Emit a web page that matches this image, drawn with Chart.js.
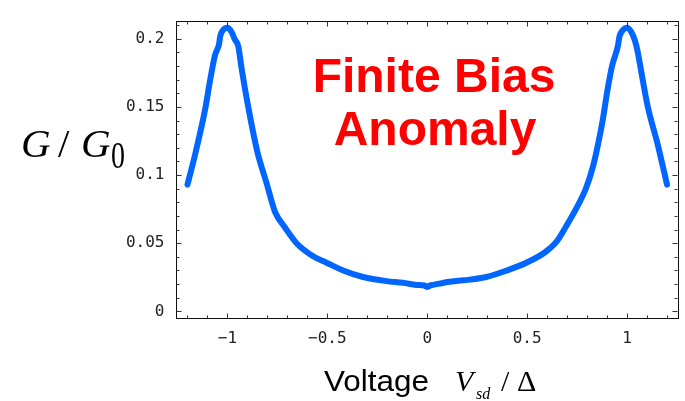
<!DOCTYPE html>
<html>
<head>
<meta charset="utf-8">
<script src="https://cdn.jsdelivr.net/npm/chart.js@4.4.1/dist/chart.umd.min.js"></script>
<style>
  html, body { margin: 0; padding: 0; background: #fff; }
  #wrap { width: 685px; height: 401px; }
</style>
</head>
<body>
<div id="wrap"><canvas id="c" width="685" height="401"></canvas></div>
<script>
// Differential conductance versus normalised source-drain bias
const voltage = [
  -1.2, -1.162, -1.112, -1.085, -1.062, -1.042, -1.036, -1.02, -1.0, -0.98,
  -0.962, -0.946, -0.929, -0.896, -0.851, -0.804, -0.762, -0.712, -0.654, -0.571,
  -0.504, -0.421, -0.321, -0.204, -0.121, -0.054, -0.015, 0, 0.015, 0.029,
  0.112, 0.212, 0.296, 0.396, 0.496, 0.588, 0.646, 0.696, 0.746, 0.795,
  0.829, 0.854, 0.879, 0.904, 0.926, 0.954, 0.962, 0.98, 0.999, 1.029,
  1.049, 1.071, 1.104, 1.154, 1.2
];
const conductance = [
  0.093, 0.115, 0.148, 0.171, 0.188, 0.196, 0.202, 0.2067, 0.2081, 0.2051,
  0.1992, 0.1946, 0.178, 0.150, 0.1175, 0.094, 0.073, 0.0615, 0.050, 0.0404,
  0.0357, 0.030, 0.0252, 0.0222, 0.021, 0.0194, 0.0190, 0.0180, 0.0190, 0.0194,
  0.0217, 0.0233, 0.0252, 0.0299, 0.0357, 0.0432, 0.0509, 0.0626, 0.0755, 0.0905,
  0.106, 0.122, 0.141, 0.164, 0.1806, 0.1946, 0.2016, 0.2065, 0.2081, 0.2027,
  0.1934, 0.1759, 0.150, 0.1221, 0.093
];

// Labelled ticks
const xTicks = [-1, -0.5, 0, 0.5, 1];
const xTickLabels = ['\u22121', '\u22120.5', '0', '0.5', '1'];
const yTicks = [0, 0.05, 0.1, 0.15, 0.2];
const yTickLabels = ['0', '0.05', '0.1', '0.15', '0.2'];

// Unlabelled minor ticks
const xMinorStep = 0.1;
const yMinorStep = 0.01;

const points = voltage.map((v, i) => ({ x: v, y: conductance[i] }));

// Draws text squeezed or stretched horizontally to a given width
function fitText(ctx, text, x, y, width) {
  const w = ctx.measureText(text).width;
  ctx.save();
  ctx.translate(x, y);
  ctx.scale(width / w, 1);
  ctx.fillText(text, 0, 0);
  ctx.restore();
}

// Frame with inward-pointing ticks on all four sides, plus annotations
const framePlugin = {
  id: 'frameTicks',
  afterDraw(chart) {
    const ctx = chart.ctx;
    const { left, right, top, bottom } = chart.chartArea;
    const xs = chart.scales.x, ys = chart.scales.y;
    ctx.save();
    ctx.strokeStyle = '#111';
    ctx.lineWidth = 1;
    ctx.strokeRect(Math.round(left) + 0.5, Math.round(top) + 0.5,
                   Math.round(right - left), Math.round(bottom - top));

    ctx.strokeStyle = '#333';
    const tick = (x1, y1, x2, y2) => {
      ctx.beginPath(); ctx.moveTo(x1, y1); ctx.lineTo(x2, y2); ctx.stroke();
    };
    const L = Math.round(left) + 0.5, R = Math.round(right) + 0.5;
    const T = Math.round(top) + 0.5, B = Math.round(bottom) + 0.5;
    // horizontal axis ticks (bottom and top)
    for (let k = -12; k <= 12; k++) {
      const v = k * xMinorStep;
      const px = Math.round(xs.getPixelForValue(v)) + 0.5;
      const major = xTicks.some(t => Math.abs(t - v) < 1e-9);
      const len = major ? 5 : 3;
      tick(px, B, px, B - len);
      tick(px, T, px, T + len);
    }
    // vertical axis ticks (left and right)
    for (let k = 0; k <= 21; k++) {
      const v = k * yMinorStep;
      const py = Math.round(ys.getPixelForValue(v)) + 0.5;
      const major = yTicks.some(t => Math.abs(t - v) < 1e-9);
      const len = major ? 5 : 3;
      tick(L, py, L + len, py);
      tick(R, py, R - len, py);
    }

    // in-plot annotation
    ctx.fillStyle = '#ff0000';
    ctx.font = 'bold 48px "Liberation Sans", Arial, sans-serif';
    ctx.textAlign = 'center';
    ctx.textBaseline = 'alphabetic';
    ctx.fillText('Finite Bias', 434, 92);
    ctx.fillText('Anomaly', 435, 145);

    // vertical axis title: G / G0
    ctx.fillStyle = '#000';
    ctx.textAlign = 'left';
    ctx.font = 'italic 41px "Liberation Serif", "Times New Roman", serif';
    ctx.fillText('G', 21, 157);
    ctx.font = '41px "Liberation Serif", "Times New Roman", serif';
    ctx.fillText('/', 58, 157);
    ctx.font = 'italic 41px "Liberation Serif", "Times New Roman", serif';
    ctx.fillText('G', 81, 157);
    ctx.font = '37px "Liberation Serif", "Times New Roman", serif';
    fitText(ctx, '0', 111, 168, 14);

    // horizontal axis title: Voltage  Vsd / Δ
    ctx.font = '30px "Liberation Sans", Arial, sans-serif';
    fitText(ctx, 'Voltage', 324, 391, 105);
    ctx.font = 'italic 30px "Liberation Serif", "Times New Roman", serif';
    ctx.fillText('V', 455, 391);
    ctx.font = 'italic 16px "Liberation Serif", "Times New Roman", serif';
    ctx.fillText('sd', 476, 399);
    ctx.font = '30px "Liberation Serif", "Times New Roman", serif';
    ctx.fillText('/', 501, 391);
    ctx.fillText('\u0394', 517, 391);
    ctx.restore();
  }
};

const tickFont = { family: '"DejaVu Sans Mono", monospace', size: 16 };

new Chart(document.getElementById('c'), {
  type: 'line',
  data: {
    datasets: [{
      data: points,
      borderColor: '#0066ff',
      borderWidth: 6,
      borderCapStyle: 'round',
      borderJoinStyle: 'round',
      pointRadius: 0,
      fill: false,
      cubicInterpolationMode: 'monotone'
    }]
  },
  options: {
    responsive: false,
    devicePixelRatio: 1,
    animation: false,
    events: [],
    layout: { padding: { left: 0, right: 8, top: 6.5, bottom: 0 } },
    plugins: { legend: { display: false }, tooltip: { enabled: false } },
    scales: {
      x: {
        type: 'linear',
        min: -1.26,
        max: 1.25,
        grid: { display: false, drawTicks: false },
        border: { display: false },
        afterBuildTicks: s => { s.ticks = xTicks.map(v => ({ value: v })); },
        afterFit: s => { s.height = 401 - 317.5; },
        ticks: {
          padding: 12,
          color: '#222',
          font: tickFont,
          maxRotation: 0,
          autoSkip: false,
          callback: (v) => xTickLabels[xTicks.findIndex(t => Math.abs(t - v) < 1e-9)]
        }
      },
      y: {
        type: 'linear',
        min: -0.0045,
        max: 0.2133,
        grid: { display: false, drawTicks: false },
        border: { display: false },
        afterBuildTicks: s => { s.ticks = yTicks.map(v => ({ value: v })); },
        afterFit: s => { s.width = 175.5; },
        ticks: {
          padding: 11,
          color: '#222',
          font: tickFont,
          autoSkip: false,
          callback: (v) => yTickLabels[yTicks.findIndex(t => Math.abs(t - v) < 1e-9)]
        }
      }
    }
  },
  plugins: [framePlugin]
});
</script>
</body>
</html>
